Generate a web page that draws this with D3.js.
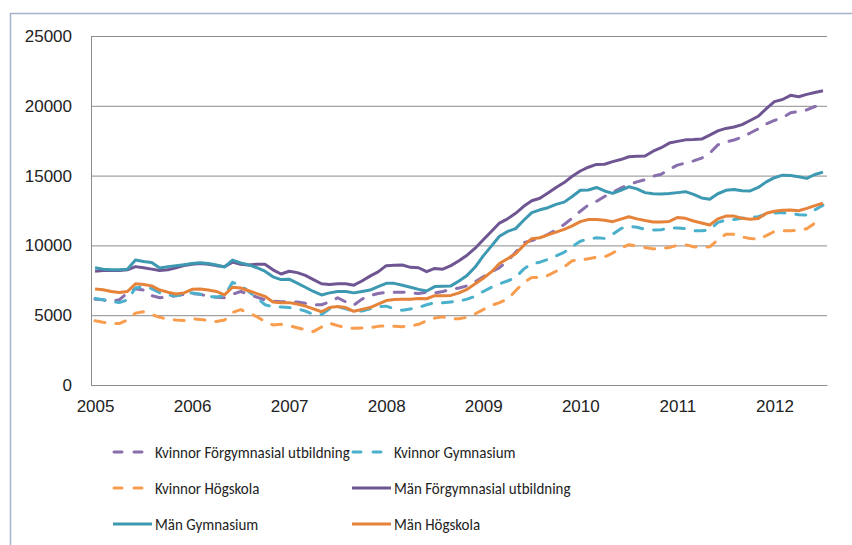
<!DOCTYPE html>
<html>
<head>
<meta charset="utf-8">
<script src="https://cdn.jsdelivr.net/npm/d3@7"></script>
<style>
  body { margin: 0; background: #fff; }
  svg { display: block; font-family: Carlito, Calibri, Lato, sans-serif; }
</style>
</head>
<body>
<script>
// months Jan 2005 .. Jul 2012
const years = ['2005','2006','2007','2008','2009','2010','2011','2012'];
const NUM_MONTHS = 91;
const yTicks = [0, 5000, 10000, 15000, 20000, 25000];

const kvinnorForgym = [6150,6100,6000,6100,6600,6900,6800,6400,6250,6300,
  6400,6500,6550,6500,6350,6280,6250,6500,6700,6500,
  6300,6100,6000,5970,5970,5950,5850,5750,5750,5950,
  6250,5950,5720,6150,6400,6550,6650,6650,6650,6620,
  6550,6650,6600,6700,6850,6950,7100,7400,7750,8100,
  8400,8900,9500,10200,10350,10500,10800,11100,11500,11950,
  12450,12900,13150,13500,13800,14100,14350,14550,14700,14950,
  15100,15450,15750,15900,16050,16250,16600,17200,17400,17550,
  17750,18050,18350,18700,18950,19150,19500,19600,19700,19950,
  20000];
const kvinnorGym = [6200,6100,6000,5900,6100,6950,7050,6900,6600,6450,
  6400,6500,6600,6500,6350,6300,6380,7350,7150,6700,
  6250,5750,5600,5580,5550,5450,5300,5050,5050,5450,
  5600,5450,5300,5300,5450,5600,5650,5450,5350,5450,
  5550,5750,5900,5900,5950,6000,6150,6350,6700,7000,
  7250,7450,7700,8300,8700,8800,9000,9250,9500,9900,
  10300,10450,10550,10500,10800,11200,11380,11300,11150,11100,
  11120,11250,11250,11200,11050,11050,11100,11650,11800,11850,
  11950,12000,12050,12250,12320,12350,12280,12200,12180,12550,
  12880];
const kvinnorHog = [4600,4500,4420,4400,4650,5150,5250,5050,4850,4720,
  4650,4620,4750,4700,4620,4550,4650,5200,5400,5150,
  4900,4550,4300,4350,4250,4100,3950,3820,4150,4430,
  4250,4100,4060,4080,4110,4200,4230,4200,4180,4220,
  4350,4600,4800,4880,4750,4750,4850,5100,5400,5700,
  5900,6150,6750,7350,7700,7710,7850,8150,8450,8900,
  8950,9050,9150,9180,9450,9800,10050,9950,9850,9750,
  9780,9850,10000,10050,9900,9880,9900,10400,10800,10800,
  10600,10500,10450,10700,11000,11050,11050,11100,11200,11600,
  11900];
const manForgym = [8150,8200,8200,8200,8250,8480,8400,8300,8200,8250,
  8400,8550,8650,8700,8650,8550,8480,8800,8650,8600,
  8650,8650,8250,7950,8150,8050,7850,7550,7250,7200,
  7250,7250,7150,7450,7800,8100,8550,8580,8600,8430,
  8400,8120,8350,8300,8550,8900,9300,9800,10400,11000,
  11600,11900,12300,12800,13200,13380,13750,14150,14500,14950,
  15330,15600,15800,15810,16000,16150,16350,16380,16400,16750,
  17000,17330,17450,17560,17580,17620,17900,18200,18380,18480,
  18650,18950,19250,19800,20300,20450,20750,20650,20820,20950,
  21080];
const manGym = [8400,8300,8250,8250,8300,8950,8850,8780,8380,8480,
  8550,8620,8700,8760,8700,8600,8450,8950,8750,8600,
  8400,8150,7750,7550,7580,7300,7000,6700,6450,6600,
  6700,6700,6600,6700,6800,7050,7280,7280,7150,7000,
  6850,6730,7050,7080,7100,7450,7850,8450,9250,9950,
  10650,11000,11200,11800,12350,12550,12700,12940,13100,13500,
  13950,13970,14150,13900,13730,13950,14200,14050,13780,13700,
  13680,13720,13780,13850,13650,13400,13300,13700,13950,14000,
  13920,13900,14150,14550,14850,15030,15000,14920,14800,15080,
  15250];
const manHog = [6880,6820,6700,6620,6700,7250,7200,7100,6800,6650,
  6520,6600,6850,6870,6800,6700,6450,7000,6950,6750,
  6550,6350,5950,5900,5900,5800,5650,5450,5250,5550,
  5620,5550,5280,5420,5550,5800,6050,6120,6140,6150,
  6200,6180,6400,6400,6420,6600,6850,7250,7650,8100,
  8700,9050,9400,10000,10480,10550,10750,10950,11150,11400,
  11700,11850,11850,11800,11700,11880,12050,11900,11780,11680,
  11680,11720,12000,11940,11750,11600,11460,11900,12100,12100,
  11950,11870,11920,12300,12450,12520,12540,12480,12650,12850,
  13020];

const seriesNames = ['Kvinnor Förgymnasial utbildning','Kvinnor Gymnasium','Kvinnor Högskola',
  'Män Förgymnasial utbildning','Män Gymnasium','Män Högskola'];
const seriesValues = [kvinnorForgym, kvinnorGym, kvinnorHog, manForgym, manGym, manHog];

(function(){
  const SVG_WIDTH = 852;
  const SVG_HEIGHT = 545;
  const MARGIN = { top: 36, right: 25, bottom: 160, left: 91 };
  const COLORS = ['#8a6fae','#4bb0cb','#f89c4e','#6f5693','#3d98b1','#e6833a'];
  const DASHED = [true, true, true, false, false, false];
  const NARROW = 0.88; // squeeze Lato to Calibri-like width

  var width = SVG_WIDTH - MARGIN.left - MARGIN.right;
  var height = SVG_HEIGHT - MARGIN.top - MARGIN.bottom;

  var categories = [];
  for (let i = 0; i < NUM_MONTHS; i++) categories.push(years[Math.floor(i/12)] + '-' + (i%12+1));

  var x = d3.scalePoint().domain(categories).range([0, width]).padding(0.5);
  var y = d3.scaleLinear().domain([0, 25000]).range([height, 0]);

  var svg = d3.select('body').append('svg')
    .attr('width', SVG_WIDTH)
    .attr('height', SVG_HEIGHT);

  // outer chart frame (only top/left visible)
  svg.append('path')
    .attr('d', 'M10.5,' + SVG_HEIGHT + 'V13.5H' + SVG_WIDTH)
    .attr('fill', 'none')
    .attr('stroke', '#a5b4ca')
    .attr('stroke-width', 1.5);

  var g = svg.append('g')
    .attr('transform', 'translate(' + MARGIN.left + ',' + MARGIN.top + ')');

  // gridlines
  g.append('g')
    .attr('class', 'grid')
    .call(d3.axisLeft(y).tickValues(yTicks).tickSize(-width).tickFormat(''))
    .call(s => s.select('.domain').remove())
    .selectAll('line')
      .attr('stroke', '#8c8c8c');

  // y axis
  g.append('g')
    .call(d3.axisLeft(y).tickValues(yTicks).tickSize(0).tickPadding(19).tickFormat(d3.format('d')))
    .call(s => s.select('.domain').attr('stroke', '#8c8c8c'))
    .selectAll('text')
      .attr('font-size', 17)
      .attr('fill', '#222');

  // x axis
  var yearTicks = categories.filter((c, i) => i % 12 === 0);
  g.append('g')
    .attr('transform', 'translate(0,' + height + ')')
    .call(d3.axisBottom(x).tickValues(yearTicks).tickSize(0).tickPadding(15)
      .tickFormat(c => c.split('-')[0]))
    .call(s => s.select('.domain').attr('stroke', '#8c8c8c'))
    .selectAll('text')
      .attr('font-size', 17)
      .attr('fill', '#222');

  var line = d3.line()
    .x((d, i) => x(categories[i]))
    .y(d => y(d));

  // dashed series first, solid on top
  seriesValues.forEach(function(values, k){
    g.append('path')
      .datum(values)
      .attr('fill', 'none')
      .attr('stroke', COLORS[k])
      .attr('stroke-width', 3)
      .attr('stroke-linejoin', 'round')
      .attr('stroke-linecap', DASHED[k] ? 'round' : 'butt')
      .attr('stroke-dasharray', DASHED[k] ? '10,11' : null)
      .attr('d', line);
  });

  // legend, 2 columns x 3 rows
  var legend = svg.append('g').attr('class', 'legend');
  seriesNames.forEach(function(name, k){
    var col = k % 2, row = Math.floor(k / 2);
    var lx = col === 0 ? 113 : 352;
    var ly = 452 + row * 36;
    var item = legend.append('g').attr('transform', 'translate(' + lx + ',' + ly + ')');
    item.append('line')
      .attr('x1', DASHED[k] ? 1 : 0).attr('x2', DASHED[k] ? 33 : 39)
      .attr('stroke', COLORS[k])
      .attr('stroke-width', 3)
      .attr('stroke-linecap', DASHED[k] ? 'round' : 'butt')
      .attr('stroke-dasharray', DASHED[k] ? '8,12' : null);
    var t = item.append('text')
      .attr('x', 42)
      .attr('dy', '0.35em')
      .attr('font-size', 17)
      .attr('fill', '#222')
      .text(name);
    t.attr('textLength', t.node().getComputedTextLength() * NARROW)
      .attr('lengthAdjust', 'spacingAndGlyphs');
  });
})();
</script>
</body>
</html>
